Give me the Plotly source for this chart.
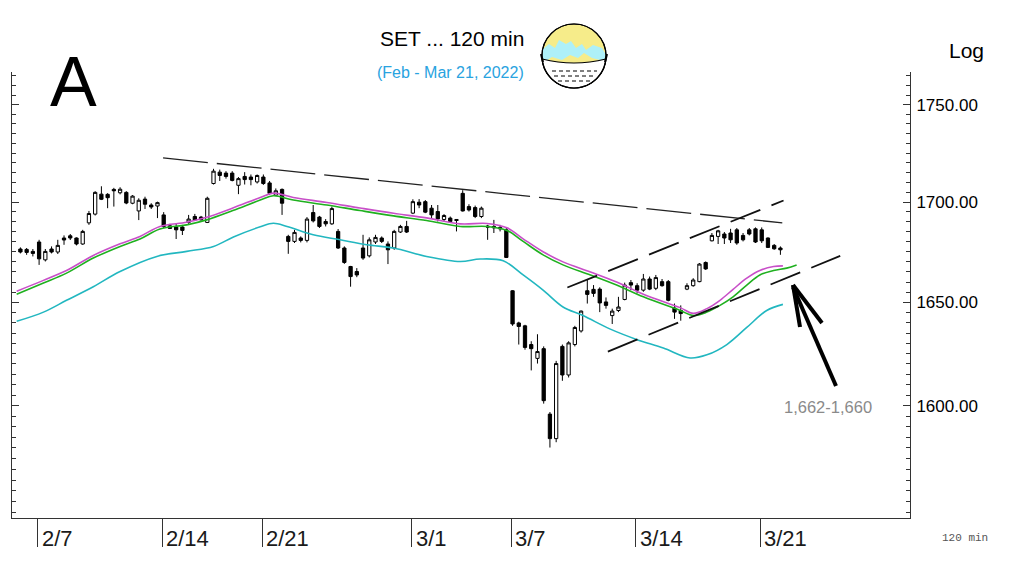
import numpy as np
import plotly.graph_objects as go

# ---------------- data ----------------
bars = list(range(123))
opens = [1676.4, 1676.2, 1675.2, 1679.9, 1671.0, 1676.4, 1674.9, 1681.9, 1683.0, 1681.9,
         1678.9, 1689.5, 1693.9, 1704.0, 1703.9, 1706.4, 1704.7, 1704.9, 1699.4, 1695.5,
         1701.5, 1698.5, 1698.0, 1693.5, 1688.0, 1687.4, 1687.4, 1689.7, 1692.7, 1692.4,
         1689.7, 1709.4, 1715.2, 1714.7, 1714.7, 1708.5, 1713.0, 1712.7, 1710.2, 1712.7,
         1709.7, 1703.5, 1706.4, 1682.7, 1680.2, 1681.9, 1680.7, 1694.7, 1692.4, 1690.2,
         1689.0, 1685.2, 1676.9, 1667.7, 1665.2, 1676.9, 1673.0, 1679.9, 1681.9, 1678.9,
         1676.9, 1684.9, 1687.7, 1694.4, 1699.9, 1700.2, 1696.9, 1695.2, 1691.2, 1691.9,
         1691.2, 1704.4, 1697.7, 1697.2, 1692.7, 1687.9, 1687.0, 1687.2, 1686.0, 1655.7,
         1639.9, 1638.5, 1629.4, 1622.7, 1627.4, 1596.0, 1584.4, 1628.5, 1614.7, 1629.4,
         1636.0, 1655.7, 1656.4, 1656.5, 1650.2, 1643.5, 1646.0, 1651.4, 1659.7, 1658.2,
         1656.0, 1661.5, 1656.9, 1660.2, 1660.2, 1647.2, 1646.0, 1656.5, 1658.2, 1660.2,
         1669.7, 1680.5, 1682.7, 1683.9, 1684.4, 1686.0, 1683.2, 1686.0, 1686.5, 1686.0,
         1681.9, 1678.2, 1676.9]
highs = [1677.2, 1676.9, 1676.4, 1681.0, 1676.4, 1677.7, 1681.0, 1683.2, 1683.9, 1682.2,
         1686.0, 1695.5, 1705.5, 1708.0, 1704.5, 1707.2, 1707.5, 1705.5, 1703.5, 1701.9,
         1702.7, 1699.4, 1700.2, 1694.9, 1689.0, 1689.4, 1688.5, 1693.5, 1694.0, 1693.0,
         1702.7, 1716.9, 1716.5, 1715.7, 1715.7, 1712.7, 1715.2, 1714.0, 1714.0, 1714.0,
         1710.7, 1706.9, 1706.9, 1683.5, 1686.0, 1682.7, 1692.4, 1698.5, 1693.0, 1691.4,
         1697.7, 1686.4, 1677.7, 1668.0, 1666.9, 1683.5, 1682.2, 1683.5, 1682.7, 1680.2,
         1686.0, 1688.5, 1690.5, 1701.4, 1701.5, 1701.0, 1698.5, 1698.5, 1693.9, 1692.7,
         1691.2, 1706.0, 1698.9, 1698.2, 1697.7, 1688.5, 1691.0, 1688.5, 1686.9, 1656.0,
         1640.5, 1639.0, 1631.0, 1634.4, 1628.5, 1597.0, 1621.5, 1629.4, 1631.0, 1638.5,
         1646.0, 1661.0, 1658.5, 1657.4, 1652.4, 1646.9, 1652.7, 1659.7, 1661.0, 1659.4,
         1664.0, 1662.7, 1663.5, 1661.5, 1661.0, 1649.4, 1648.5, 1659.4, 1661.9, 1669.4,
         1670.2, 1684.4, 1686.0, 1684.9, 1686.5, 1686.9, 1684.4, 1686.9, 1687.2, 1687.2,
         1682.2, 1678.9, 1677.7]
lows = [1674.2, 1673.5, 1672.7, 1668.5, 1670.2, 1674.2, 1673.9, 1678.5, 1680.9, 1678.2,
        1678.5, 1688.5, 1693.2, 1701.0, 1696.9, 1697.7, 1703.9, 1698.9, 1698.9, 1690.9,
        1696.5, 1696.5, 1691.9, 1686.9, 1686.4, 1681.4, 1683.4, 1689.0, 1690.7, 1690.7,
        1689.4, 1708.9, 1710.7, 1711.9, 1710.5, 1704.0, 1708.9, 1708.5, 1709.4, 1708.7,
        1703.7, 1703.2, 1693.5, 1674.0, 1679.4, 1679.7, 1679.7, 1689.7, 1686.9, 1687.7,
        1688.5, 1676.4, 1669.0, 1657.7, 1662.4, 1671.0, 1672.2, 1678.9, 1679.4, 1668.9,
        1676.0, 1684.4, 1684.4, 1693.9, 1696.9, 1694.4, 1691.9, 1690.2, 1690.2, 1689.4,
        1685.2, 1695.2, 1695.2, 1691.9, 1691.9, 1681.0, 1684.4, 1685.2, 1671.9, 1638.5,
        1629.4, 1626.9, 1616.9, 1620.2, 1601.0, 1580.2, 1582.7, 1611.9, 1613.5, 1628.5,
        1635.2, 1649.4, 1652.7, 1645.2, 1646.9, 1639.4, 1645.2, 1651.0, 1656.0, 1654.4,
        1655.2, 1656.0, 1656.0, 1657.7, 1650.5, 1641.9, 1641.0, 1656.0, 1657.7, 1659.9,
        1666.0, 1680.2, 1678.9, 1678.9, 1679.4, 1678.5, 1680.2, 1683.2, 1679.4, 1679.4,
        1676.9, 1676.0, 1673.5]
closes = [1674.9, 1674.7, 1674.2, 1671.5, 1675.2, 1674.9, 1678.2, 1680.9, 1681.9, 1678.9,
          1685.2, 1694.2, 1704.9, 1701.4, 1702.2, 1705.7, 1706.5, 1699.5, 1703.0, 1700.9,
          1698.9, 1697.5, 1699.7, 1687.7, 1686.7, 1686.0, 1685.7, 1691.4, 1691.0, 1691.0,
          1701.9, 1715.7, 1713.5, 1713.0, 1711.0, 1711.9, 1711.4, 1711.4, 1713.5, 1709.4,
          1704.4, 1705.7, 1699.4, 1680.2, 1684.7, 1680.7, 1691.4, 1690.5, 1687.7, 1689.0,
          1696.7, 1676.9, 1669.7, 1662.7, 1663.5, 1671.9, 1681.0, 1682.2, 1680.2, 1676.0,
          1685.2, 1687.7, 1684.9, 1700.2, 1698.5, 1694.9, 1693.5, 1691.5, 1693.2, 1690.2,
          1690.7, 1695.5, 1696.0, 1692.7, 1696.9, 1687.4, 1687.7, 1686.5, 1672.2, 1639.4,
          1638.2, 1628.0, 1627.4, 1626.0, 1602.4, 1584.4, 1620.2, 1614.7, 1630.2, 1637.7,
          1645.7, 1653.9, 1654.4, 1649.7, 1648.5, 1645.7, 1647.7, 1658.5, 1658.5, 1656.0,
          1661.5, 1656.5, 1662.2, 1658.2, 1651.0, 1645.2, 1644.5, 1658.2, 1661.0, 1668.9,
          1666.5, 1683.2, 1685.5, 1681.9, 1681.0, 1679.4, 1681.0, 1683.9, 1679.9, 1680.5,
          1677.2, 1676.5, 1676.0]

# moving-average style lines, read at sample bar positions
ma_magenta_x = [-0.6, 3.6, 7.4, 11.7, 16, 19.2, 22.4, 26.7, 29.9, 34.1, 38.5, 40.6, 43.8,
                49.2, 54.5, 59.9, 65.2, 70.6, 74.9, 78.1, 80.7, 83.9, 87.1, 91.5, 95.7,
                100, 105.9, 108, 110.2, 112.3, 114.4, 116.6, 118.7, 120.9, 122.4]
ma_magenta = [1655.5, 1660.7, 1665.7, 1673.2, 1679.0, 1682.7, 1687.7, 1689.8, 1692.3, 1697.0,
              1702.3, 1704.5, 1702.3, 1699.8, 1697.0, 1694.3, 1692.0, 1689.0, 1689.2, 1687.0,
              1681.5, 1675.0, 1670.0, 1665.0, 1660.0, 1654.0, 1647.4, 1644.6, 1646.9, 1651.0,
              1656.4, 1661.9, 1665.7, 1667.7, 1668.0]
ma_green_x = [-0.6, 3.6, 7.4, 11.7, 16, 19.2, 22.4, 26.7, 29.9, 34.1, 38.5, 40.6, 43.8,
              49.2, 54.5, 59.9, 65.2, 70.6, 74.9, 78.1, 80.7, 83.9, 87.1, 91.5, 95.7,
              100, 105.9, 108, 110.2, 112.3, 114.4, 116.6, 118.7, 120.9, 123, 124.6]
ma_green = [1654.0, 1659.4, 1664.4, 1671.9, 1677.7, 1681.4, 1686.4, 1688.5, 1691.0, 1695.7,
            1701.0, 1703.2, 1701.0, 1698.5, 1695.7, 1693.0, 1690.7, 1687.7, 1687.7, 1685.7,
            1680.2, 1673.5, 1668.5, 1663.5, 1658.5, 1652.7, 1646.0, 1643.5, 1645.2, 1648.5,
            1652.7, 1658.5, 1663.5, 1665.7, 1666.9, 1668.5]
ma_cyan_x = [-0.6, 3.7, 7.4, 11.7, 16, 21.9, 26.7, 31, 34.2, 38.5, 40.6, 42.8, 47, 51.3,
             55.6, 59.9, 65.2, 70.6, 73.8, 77.5, 80.7, 83.9, 87.1, 90.3, 94.7, 98.9,
             103.2, 107.5, 110.2, 113.4, 116.6, 119.8, 122.4]
ma_cyan = [1640.7, 1645.2, 1651.0, 1657.7, 1665.2, 1672.7, 1675.2, 1677.7, 1682.4, 1687.5,
           1689.3, 1687.7, 1683.5, 1681.0, 1678.5, 1676.9, 1672.7, 1670.2, 1671.4, 1670.5,
           1663.5, 1656.0, 1647.7, 1643.5, 1636.9, 1631.9, 1627.7, 1622.9, 1624.4, 1629.4,
           1637.7, 1646.0, 1649.0]

# hand-drawn trend lines (bar position, price)
trend_x = [22.9, 122.3]
trend_y = [1722.5, 1689.5]
chan_up_x = [87.8, 122.5]
chan_up_y = [1657.3, 1700.8]
chan_lo_x = [94.3, 131.6]
chan_lo_y = [1626.0, 1673.0]

day_labels = ["2/7", "2/14", "2/21", "3/1", "3/7", "3/14", "3/21"]
day_start_bar = [3, 23, 39, 63, 79, 99, 119]

y_tick_vals = [1600, 1650, 1700, 1750]
y_tick_text = ["1600.00", "1650.00", "1700.00", "1750.00"]
y_minor_vals = list(range(1550, 1770, 5))

title_text = "SET ... 120 min"
subtitle_text = "(Feb - Mar 21, 2022)"
target_text = "1,662-1,660"

# ---------------- geometry helpers (page pixel -> paper) ----------------
OFF = 8                      # page body margin of the html page
FIG_W, FIG_H = 1024 - OFF, 568 - OFF
PL, PR, PT, PB = 12, 910, 72, 518   # plot area in page pixels


def px(x):
    return (x - PL) / (PR - PL)


def py(y):
    return (PB - y) / (PB - PT)


def path_from(points, close=True):
    s = "M " + " L ".join(f"{px(a):.5f},{py(b):.5f}" for a, b in points)
    return s + (" Z" if close else "")


fig = go.Figure()

fig.add_trace(go.Scatter(x=ma_cyan_x, y=ma_cyan, mode="lines",
                         line=dict(color="#22b7c0", width=1.6, shape="spline"),
                         hoverinfo="skip"))
fig.add_trace(go.Scatter(x=ma_magenta_x, y=ma_magenta, mode="lines",
                         line=dict(color="#c84fc8", width=1.6, shape="spline"),
                         hoverinfo="skip"))
fig.add_trace(go.Scatter(x=ma_green_x, y=ma_green, mode="lines",
                         line=dict(color="#1fb01f", width=1.6, shape="spline"),
                         hoverinfo="skip"))

fig.add_trace(go.Scatter(x=trend_x, y=trend_y, mode="lines",
                         line=dict(color="#222222", width=1.3, dash="45px,9px"),
                         hoverinfo="skip"))
fig.add_trace(go.Scatter(x=chan_up_x, y=chan_up_y, mode="lines",
                         line=dict(color="#111111", width=1.8, dash="32px,12px"),
                         hoverinfo="skip"))
fig.add_trace(go.Scatter(x=chan_lo_x, y=chan_lo_y, mode="lines",
                         line=dict(color="#111111", width=1.8, dash="32px,12px"),
                         hoverinfo="skip"))

fig.add_trace(go.Candlestick(
    x=bars, open=opens, high=highs, low=lows, close=closes,
    increasing=dict(line=dict(color="black", width=1), fillcolor="white"),
    decreasing=dict(line=dict(color="black", width=1), fillcolor="black"),
    whiskerwidth=0, hoverinfo="skip"))

# ---------------- layout ----------------
fig.update_layout(
    width=FIG_W, height=FIG_H,
    margin=dict(l=PL - OFF, r=FIG_W - (PR - OFF), t=PT - OFF, b=FIG_H - (PB - OFF), pad=0),
    paper_bgcolor="white", plot_bgcolor="white",
    showlegend=False,
    boxgap=0.25,
    xaxis=dict(range=[-1.35, 142.8], showline=True, linecolor="#333", linewidth=1,
               ticks="outside", ticklen=28, tickcolor="#333", tickwidth=1,
               tickvals=[b - 0.2 for b in day_start_bar], showticklabels=False,
               showgrid=False, zeroline=False, rangeslider=dict(visible=False),
               fixedrange=True),
    yaxis=dict(type="log", range=[np.log10(1547.4), np.log10(1767.1)], side="right",
               showline=True, linecolor="#333", linewidth=1, mirror="ticks",
               ticks="inside", ticklen=7, tickcolor="#333",
               tickvals=y_tick_vals, ticktext=y_tick_text,
               tickfont=dict(family="Arial, Liberation Sans, sans-serif", size=17, color="black"),
               ticklabelstandoff=2,
               minor=dict(tickvals=y_minor_vals, ticks="inside", ticklen=4,
                          tickcolor="#333", showgrid=False),
               showgrid=False, zeroline=False, fixedrange=True),
)

ann = []
for lab, b in zip(day_labels, day_start_bar):
    ann.append(dict(x=b - 0.2, y=py(538), xref="x", yref="paper", text=lab,
                    showarrow=False, xanchor="left", yanchor="middle", xshift=2,
                    font=dict(family="Liberation Sans Narrow, Arial Narrow, Liberation Sans, Arial, sans-serif",
                              size=22, color="#1a1a1a")))
ann += [
    dict(x=px(73), y=py(82), xref="paper", yref="paper", text="A", showarrow=False,
         xanchor="center", yanchor="middle",
         font=dict(family="Arial, Liberation Sans", size=70, color="black")),
    dict(x=px(452), y=py(38), xref="paper", yref="paper", text=title_text, showarrow=False,
         xanchor="center", yanchor="middle",
         font=dict(family="Arial, Liberation Sans", size=21, color="black")),
    dict(x=px(450), y=py(72), xref="paper", yref="paper", text=subtitle_text, showarrow=False,
         xanchor="center", yanchor="middle",
         font=dict(family="Arial, Liberation Sans", size=16, color="#29a3e0")),
    dict(x=px(966), y=py(50), xref="paper", yref="paper", text="Log", showarrow=False,
         xanchor="center", yanchor="middle",
         font=dict(family="Arial, Liberation Sans", size=21, color="black")),
    dict(x=px(828), y=py(407), xref="paper", yref="paper", text=target_text, showarrow=False,
         xanchor="center", yanchor="middle",
         font=dict(family="Arial, Liberation Sans", size=16.5, color="#8a8a8a")),
    dict(x=px(965), y=py(538), xref="paper", yref="paper", text="120 min", showarrow=False,
         xanchor="center", yanchor="middle",
         font=dict(family="Liberation Mono, DejaVu Sans Mono, monospace", size=11, color="#555")),
]
fig.update_layout(annotations=ann)

shapes = []
# arrow
for (a, b, c, d) in [(836, 386, 793, 287), (793, 285, 800, 327), (793, 285, 822, 323)]:
    shapes.append(dict(type="line", xref="paper", yref="paper", x0=px(a), y0=py(b),
                       x1=px(c), y1=py(d), line=dict(color="black", width=4)))

# globe icon
cx, cy, r = 574, 56, 32
shapes.append(dict(type="circle", xref="paper", yref="paper", x0=px(cx - r), x1=px(cx + r),
                   y0=py(cy + r), y1=py(cy - r), fillcolor="#f6ec8a",
                   line=dict(color="black", width=1.2)))
cyan_pts = [(543, 49), (549, 44), (555, 48), (559, 40), (566, 44), (571, 41), (576, 48),
            (582, 44), (586, 50), (593, 45), (602, 48), (606, 55), (604, 61), (592, 58),
            (584, 53), (578, 58), (570, 55), (562, 60), (552, 57), (546, 61), (542, 58)]
shapes.append(dict(type="path", xref="paper", yref="paper", path=path_from(cyan_pts),
                   fillcolor="#aef0f8", line=dict(width=0)))
th = np.linspace(np.arcsin(3 / r), np.pi - np.arcsin(3 / r), 40)
arc = [(cx + r * np.cos(t), cy + r * np.sin(t)) for t in th]
mask_path = "M " + " L ".join(f"{px(a):.5f},{py(b):.5f}" for a, b in arc)
mask_path += f" Q {px(cx):.5f},{py(cy + 11):.5f} {px(arc[0][0]):.5f},{py(arc[0][1]):.5f} Z"
shapes.append(dict(type="path", xref="paper", yref="paper", path=mask_path,
                   fillcolor="white", line=dict(color="black", width=1.2)))
for yy, xa, xb in [(71, 552, 597), (76, 554, 594), (81, 558, 590)]:
    shapes.append(dict(type="line", xref="paper", yref="paper", x0=px(xa), x1=px(xb),
                       y0=py(yy), y1=py(yy), line=dict(color="black", width=1, dash="4px,3px")))
for (a, b, c, d) in [(541, 54, 543, 62), (607, 54, 605, 62)]:
    shapes.append(dict(type="line", xref="paper", yref="paper", x0=px(a), y0=py(b),
                       x1=px(c), y1=py(d), line=dict(color="black", width=2)))
shapes.append(dict(type="circle", xref="paper", yref="paper", x0=px(cx - r), x1=px(cx + r),
                   y0=py(cy + r), y1=py(cy - r), line=dict(color="black", width=1.2)))
fig.update_layout(shapes=shapes)

fig.write_html("out.html")
